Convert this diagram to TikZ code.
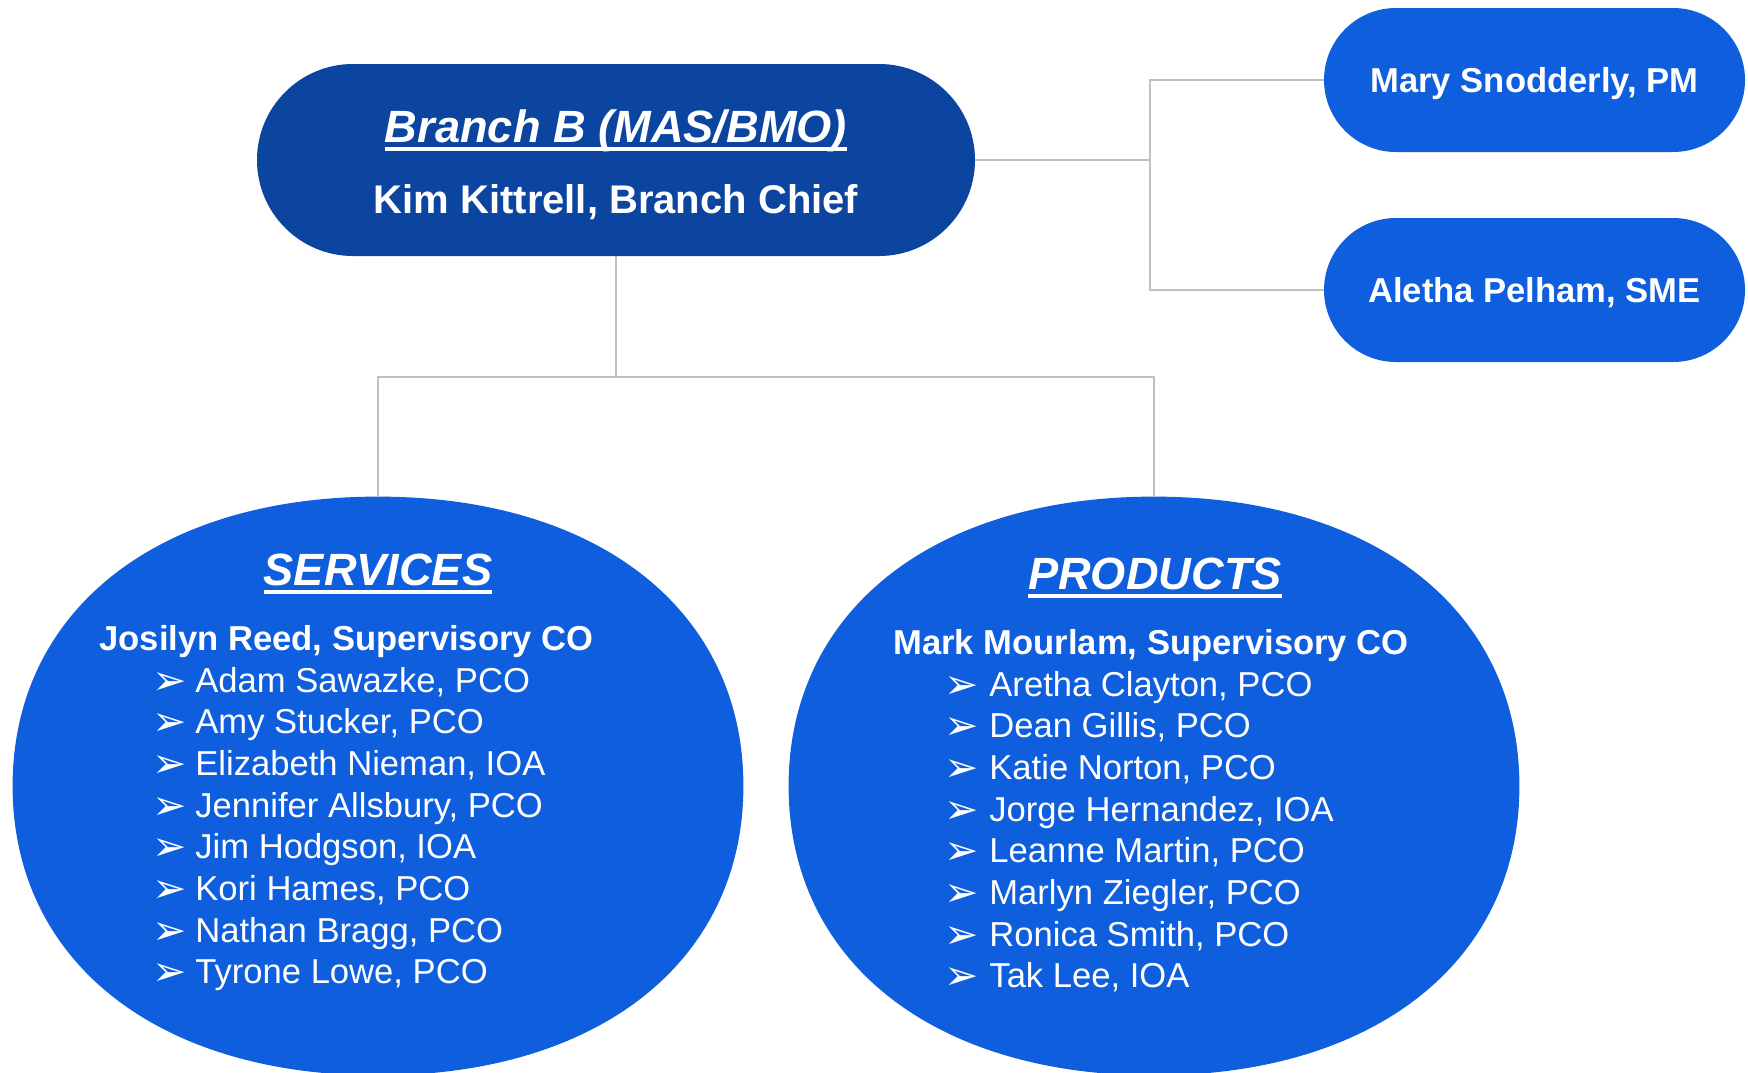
\documentclass[tikz,border=0pt]{standalone}
\usepackage{fontspec}
\setmainfont{Liberation Sans}
\newfontfamily\dvfont{DejaVu Sans}
\usetikzlibrary{calc}
\definecolor{navy}{RGB}{11,69,160}
\definecolor{bblue}{RGB}{14,94,222}
\definecolor{lgray}{RGB}{192,192,192}
\newcommand\myul[1]{\setbox0\hbox{#1}\rlap{\rule[-4.6pt]{\wd0}{2pt}}\box0}
\newcommand\blob[1]{%
  \fill[bblue] (#1.north)
    .. controls ($(#1.north)+(-221,0)$) and ($(#1.west)+(0,-175)$) .. (#1.west)
    .. controls ($(#1.west)+(0,175)$) and ($(#1.south)+(-221,0)$) .. (#1.south)
    .. controls ($(#1.south)+(221,0)$) and ($(#1.east)+(0,175)$) .. (#1.east)
    .. controls ($(#1.east)+(0,-175)$) and ($(#1.north)+(221,0)$) .. (#1.north) -- cycle;}
\begin{document}
\begin{tikzpicture}[x=0.5pt,y=-0.5pt,
  conn/.style={draw=lgray,line width=1pt},
  toppill/.style={fill=navy,draw=none,rounded corners=48pt,minimum width=359pt,minimum height=96pt,inner sep=0pt},
  sidepill/.style={fill=bblue,draw=none,rounded corners=36pt,minimum width=210.5pt,minimum height=72pt,inner sep=0pt,text=white,
     font=\bfseries\fontsize{17.3}{20}\selectfont,text height=12.4pt,text depth=0pt},
  oval/.style={rectangle,draw=none,minimum width=365pt,minimum height=289pt,inner sep=0pt},
  title/.style={text=white,inner sep=0pt,anchor=base,font=\bfseries\itshape\fontsize{22.6}{26}\selectfont},
  chief/.style={text=white,inner sep=0pt,anchor=base,font=\bfseries\fontsize{20}{24}\selectfont},
  sup/.style={text=white,inner sep=0pt,anchor=base west,font=\bfseries\fontsize{17.3}{20}\selectfont},
  item/.style={text=white,inner sep=0pt,anchor=base west,font=\fontsize{17.3}{20}\selectfont},
  bul/.style={text=white,inner sep=0pt,anchor=base west,font=\dvfont\fontsize{20.5}{20}\selectfont}]
\useasboundingbox (0,0) rectangle (1748,1072);
\clip (0,0) rectangle (1748,1072);
% shapes
\node[toppill] (top) at (616,160) {};
\node[sidepill] (mary) at (1534.5,80) {Mary Snodderly, PM};
\node[sidepill] (aletha) at (1534.5,290) {Aletha Pelham, SME};
\node[oval] (serv) at (378,786) {};
\node[oval] (prod) at (1154,786) {};
\blob{serv}
\blob{prod}
% connectors
\draw[conn] (top.south) -- ++(0,121) coordinate (j);
\draw[conn] (j) -| (serv.north);
\draw[conn] (j) -| (prod.north);
\draw[conn] (top.east) -- (1150,160) coordinate (k);
\draw[conn] (k) |- (mary.west);
\draw[conn] (k) |- (aletha.west);
% top texts
\node[title] (toptitle) at (616,142) {\myul{Branch B (MAS/BMO)}};
\node[chief] (topchief) at (616,213) {Kim Kittrell, Branch Chief};
% services
\node[title] (stitle) at (378,585) {\myul{SERVICES}};
\node[sup] (ssup) at (99,650) {Josilyn Reed, Supervisory CO};
\foreach \t [count=\i from 0] in {{Adam Sawazke, PCO},{Amy Stucker, PCO},{Elizabeth Nieman, IOA},{Jennifer Allsbury, PCO},{Jim Hodgson, IOA},{Kori Hames, PCO},{Nathan Bragg, PCO},{Tyrone Lowe, PCO}}{
  \node[bul] (sb\i) at ({152},{694+41.7*\i}) {➢};
  \node[item] (s\i) at ({195},{692+41.7*\i}) {\t};
}
% products
\node[title] (ptitle) at (1155,589) {\myul{PRODUCTS}};
\node[sup] (psup) at (893,654) {Mark Mourlam, Supervisory CO};
\foreach \t [count=\i from 0] in {{Aretha Clayton, PCO},{Dean Gillis, PCO},{Katie Norton, PCO},{Jorge Hernandez, IOA},{Leanne Martin, PCO},{Marlyn Ziegler, PCO},{Ronica Smith, PCO},{Tak Lee, IOA}}{
  \node[bul] (pb\i) at ({944},{698+41.7*\i}) {➢};
  \node[item] (p\i) at ({989},{696+41.7*\i}) {\t};
}
\end{tikzpicture}
\end{document}
